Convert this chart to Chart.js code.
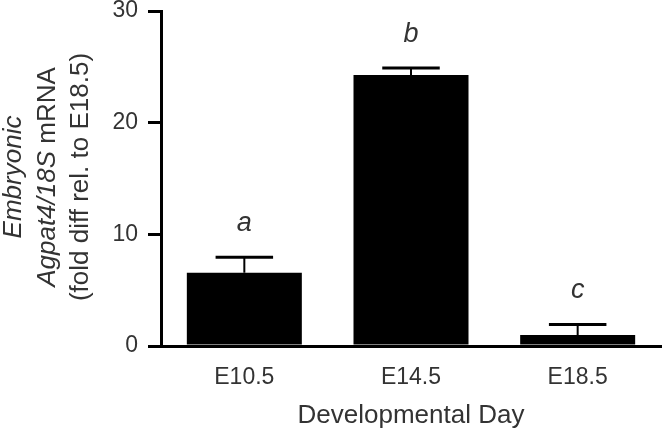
<!DOCTYPE html>
<html>
<head>
<meta charset="utf-8">
<script src="https://cdn.jsdelivr.net/npm/chart.js@4"></script>
<style>
  html, body { margin: 0; padding: 0; background: #fff; }
  #wrap { width: 666px; height: 433px; }
</style>
</head>
<body>
<div id="wrap"><canvas id="chart" width="666" height="433"></canvas></div>
<script>
const days = ['E10.5', 'E14.5', 'E18.5'];
const means = [6.56, 24.26, 0.98];
const sem = [1.38, 0.64, 0.95];
const letters = ['a', 'b', 'c'];
const yTicks = [0, 10, 20, 30];

const FONT = '"Liberation Sans", Arial, sans-serif';
const TEXT = '#333';

// error bars + significance letters
const errorBars = {
    id: 'errorBars',
    afterDatasetsDraw(chart) {
        const ctx = chart.ctx;
        const y = chart.scales.y;
        const meta = chart.getDatasetMeta(0);
        ctx.save();
        meta.data.forEach((bar, i) => {
            const top = y.getPixelForValue(means[i]);
            const hi = y.getPixelForValue(means[i] + sem[i]);
            const half = bar.width / 4;
            ctx.strokeStyle = '#000';
            ctx.lineWidth = 2;
            ctx.beginPath();
            ctx.moveTo(bar.x, top);
            ctx.lineTo(bar.x, hi);
            ctx.stroke();
            ctx.lineWidth = 3;
            ctx.beginPath();
            ctx.moveTo(bar.x - half, hi);
            ctx.lineTo(bar.x + half, hi);
            ctx.stroke();

            ctx.fillStyle = TEXT;
            ctx.font = 'italic 27px ' + FONT;
            ctx.textAlign = 'center';
            ctx.textBaseline = 'alphabetic';
            ctx.fillText(letters[i], bar.x, hi - 26);
        });
        ctx.restore();
    },
    afterDraw(chart) {
        const ctx = chart.ctx;
        const area = chart.chartArea;
        ctx.save();
        ctx.fillStyle = TEXT;
        ctx.textBaseline = 'alphabetic';

        // x title
        ctx.font = '26px ' + FONT;
        ctx.textAlign = 'center';
        ctx.fillText('Developmental Day', (area.left + area.right) / 2, 423);

        // y title, three rotated lines with mixed styles
        const cy = 177;
        const lines = [
            [{ t: 'Embryonic', it: true }],
            [{ t: 'Agpat4/18S', it: true }, { t: ' mRNA', it: false }],
            [{ t: '(fold diff rel. to E18.5)', it: false }]
        ];
        const xs = [21, 55, 88];
        lines.forEach((parts, li) => {
            let total = 0;
            parts.forEach(p => {
                ctx.font = (p.it ? 'italic ' : '') + '26px ' + FONT;
                p.w = ctx.measureText(p.t).width;
                total += p.w;
            });
            ctx.save();
            ctx.translate(xs[li], cy);
            ctx.rotate(-Math.PI / 2);
            ctx.textAlign = 'left';
            let x = -total / 2;
            parts.forEach(p => {
                ctx.font = (p.it ? 'italic ' : '') + '26px ' + FONT;
                ctx.fillText(p.t, x, 0);
                x += p.w;
            });
            ctx.restore();
        });
        ctx.restore();
    }
};

const ctx = document.getElementById('chart').getContext('2d');
const chart = new Chart(ctx, {
    type: 'bar',
    data: {
        labels: days,
        datasets: [{
            data: means,
            backgroundColor: '#000',
            borderWidth: 0,
            barPercentage: 0.69,
            categoryPercentage: 1
        }]
    },
    options: {
        responsive: false,
        animation: false,
        devicePixelRatio: 1,
        layout: { padding: { top: 11, right: 5, bottom: 0, left: 0 } },
        plugins: {
            legend: { display: false },
            tooltip: { enabled: false }
        },
        scales: {
            x: {
                grid: { display: true, drawOnChartArea: false, drawTicks: false },
                border: { display: true, color: '#000', width: 3 },
                ticks: {
                    color: TEXT,
                    font: { family: FONT, size: 23 },
                    padding: 18,
                    maxRotation: 0
                },
                afterFit(scale) {
                    scale.height = 87;
                    scale.paddingLeft = 0;
                    scale.paddingRight = 0;
                }
            },
            y: {
                min: 0,
                max: 30,
                afterBuildTicks(scale) {
                    scale.ticks = yTicks.map(v => ({ value: v }));
                },
                grid: {
                    drawOnChartArea: false,
                    drawTicks: true,
                    tickLength: 13,
                    color: '#000',
                    lineWidth: 3
                },
                border: { display: true, color: '#000', width: 3 },
                ticks: {
                    color: TEXT,
                    font: { family: FONT, size: 23 },
                    padding: 10
                },
                afterFit(scale) {
                    scale.width = 161;
                    scale.paddingTop = 0;
                    scale.paddingBottom = 0;
                }
            }
        }
    },
    plugins: [errorBars]
});
</script>
</body>
</html>
